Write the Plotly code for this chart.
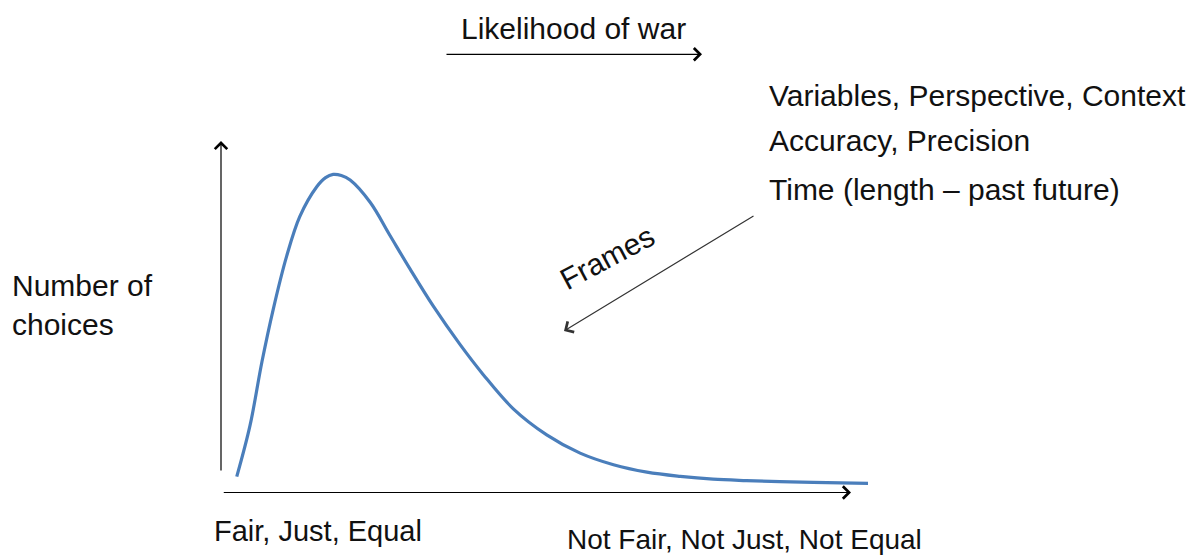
import plotly.graph_objects as go

# Curve (x: position along the fair -> not fair axis, y: number of choices)
curve_x = [0.25, 0.46, 0.65, 0.83, 1.04, 1.25, 1.52, 1.66, 1.78, 1.91, 2.05, 2.37, 2.68, 3.00, 3.37,
           3.79, 4.16, 4.64, 5.17, 5.70, 6.23, 6.76, 7.29, 7.81, 8.34, 8.87, 9.40, 10.27]
curve_y = [0.45, 1.90, 3.72, 5.22, 6.71, 7.85, 8.70, 8.96, 9.05, 9.02, 8.89, 8.25, 7.32, 6.36, 5.30,
           4.22, 3.36, 2.38, 1.64, 1.12, 0.79, 0.58, 0.46, 0.38, 0.34, 0.31, 0.29, 0.26]

top_label = "Likelihood of war"
frame_lines = ["Variables, Perspective, Context", "Accuracy, Precision", "Time (length \u2013 past future)"]
y_label = ["Number of", "choices"]
x_left_label = "Fair, Just, Equal"
x_right_label = "Not Fair, Not Just, Not Equal"
frames_label = "Frames"

W, H = 1203, 558
OFF = 8  # page body margin
FONT = "Liberation Sans"
FS = 30
TXT = "#111111"


def px(x):
    return (x - OFF) / W


def py(y):
    return 1 - (y - OFF) / H


X0, Y0 = 221 - OFF, 492.5 - OFF
SX, SY = 63.0, 35.15

fig = go.Figure()
fig.add_trace(go.Scatter(
    x=curve_x, y=curve_y, mode="lines",
    line=dict(color="#4A7EBB", width=3.2, shape="spline", smoothing=1.0),
    hoverinfo="skip", showlegend=False,
))

ann = []
AH = dict(showarrow=True, arrowhead=4, arrowsize=2.0, arrowwidth=1.2, text="")
# axes arrows (data coordinates)
ann.append(dict(x=0, y=10.0, ax=0, ay=0.58, xref="x", yref="y", axref="x", ayref="y",
                arrowcolor="#000", **AH))
ann.append(dict(x=10.0, y=0, ax=0.02, ay=0, xref="x", yref="y", axref="x", ayref="y",
                arrowcolor="#000", **AH))
# likelihood arrow
ann.append(dict(x=px(702), y=py(54.3), xref="paper", yref="paper", ax=-257, ay=0,
                arrowcolor="#000", **AH))
# frames arrow
ann.append(dict(x=px(564), y=py(331), xref="paper", yref="paper", ax=191, ay=-116,
                arrowcolor="#333", **AH))


def label(text, x, y, anchor="left", angle=0, size=FS):
    ann.append(dict(x=px(x), y=py(y), xref="paper", yref="paper", text=text, showarrow=False,
                    xanchor=anchor, yanchor="middle", textangle=angle,
                    font=dict(family=FONT, size=size, color=TXT)))


label(top_label, 459, 28)
for t, yy in zip(frame_lines, [96, 141, 189.5]):
    label(t, 767, yy)
label(y_label[0], 10, 286)
label(y_label[1], 10, 324)
label(x_left_label, 212, 531, size=29)
label(x_right_label, 565, 539.5, size=28)
label(frames_label, 607, 257, anchor="center", angle=-28)

fig.update_layout(
    width=W, height=H,
    margin=dict(l=0, r=0, t=0, b=0),
    paper_bgcolor="white", plot_bgcolor="white",
    xaxis=dict(range=[-X0 / SX, (W - X0) / SX], visible=False, fixedrange=True),
    yaxis=dict(range=[(Y0 - H) / SY, Y0 / SY], visible=False, fixedrange=True),
    annotations=ann,
    showlegend=False,
)

fig.write_html("out.html")
